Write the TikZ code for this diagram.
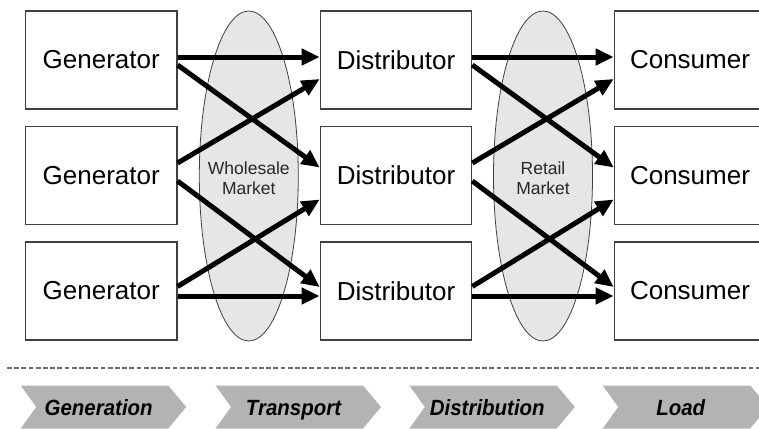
\documentclass[tikz,border=0pt]{standalone}
\usepackage{fontspec}
\setmainfont{Liberation Sans}
\newfontfamily\phasefont[FakeStretch=0.93]{Liberation Sans}
\usetikzlibrary{arrows.meta,calc,shapes.geometric}
\definecolor{boxline}{HTML}{404040}
\definecolor{marketfill}{HTML}{E6E6E6}
\definecolor{phasefill}{HTML}{B3B3B3}
\definecolor{rulegray}{HTML}{6A6A6A}

\begin{document}
\begin{tikzpicture}[x=1pt,y=-1pt,
  unit/.style={draw=boxline, line width=1.1pt, fill=white, minimum width=151.5pt,
    minimum height=98pt, inner sep=0pt, font=\fontsize{26}{31}\selectfont},
  market/.style={ellipse, draw=boxline, line width=0.8pt, fill=marketfill,
    minimum width=99pt, minimum height=330pt, inner sep=0pt},
  marketlabel/.style={align=center, inner sep=0pt, text=black!85,
    font=\fontsize{17.5}{19.5}\selectfont},
  flow/.style={line width=5pt, -{Triangle[length=18pt,width=16pt]}},
  phase/.style={fill=phasefill},
  phaselabel/.style={anchor=base, inner sep=0pt,
    font=\phasefont\fontsize{22}{26}\selectfont\bfseries\itshape}
]
\useasboundingbox (0,0) rectangle (759,428);

% market ellipses behind everything
\node[market] (wm) at (248.8,176) {};
\node[marketlabel] (wmlabel) at ($(wm.center)+(0,2)$) {Wholesale\\Market};
\node[market] (rm) at (543,176) {};
\node[marketlabel] (rmlabel) at ($(rm.center)+(0,2)$) {Retail\\Market};

% the three columns of participants
\node[unit] (g1) at (101.25,60) {Generator};
\node[unit] (g2) at (101.25,175.5) {Generator};
\node[unit] (g3) at (101.25,291) {Generator};
\node[unit] (d1) at (396,60) {Distributor};
\node[unit] (d2) at (396,175.5) {Distributor};
\node[unit] (d3) at (396,291) {Distributor};
\node[unit] (c1) at (690,60) {Consumer};
\node[unit] (c2) at (690,175.5) {Consumer};
\node[unit] (c3) at (690,291) {Consumer};

% trading flows: generators to distributors
\draw[flow] ($(g1.east)+(0,-3)$)   -- ($(d1.west)+(0,-3)$);
\draw[flow] ($(g1.east)+(0,5)$)    -- ($(d2.west)+(0,-8)$);
\draw[flow] ($(g2.east)+(0,-12.5)$) -- ($(d1.west)+(0,19)$);
\draw[flow] ($(g2.east)+(0,5.5)$)  -- ($(d3.west)+(0,-4)$);
\draw[flow] ($(g3.east)+(0,-4.5)$) -- ($(d2.west)+(0,24)$);
\draw[flow] ($(g3.east)+(0,5)$)    -- ($(d3.west)+(0,5)$);

% trading flows: distributors to consumers
\draw[flow] ($(d1.east)+(0,-3)$)   -- ($(c1.west)+(0,-3)$);
\draw[flow] ($(d1.east)+(0,5)$)    -- ($(c2.west)+(0,-8)$);
\draw[flow] ($(d2.east)+(0,-12.5)$) -- ($(c1.west)+(0,19)$);
\draw[flow] ($(d2.east)+(0,5.5)$)  -- ($(c3.west)+(0,-4)$);
\draw[flow] ($(d3.east)+(0,-4.5)$) -- ($(c2.west)+(0,24)$);
\draw[flow] ($(d3.east)+(0,5)$)    -- ($(c3.west)+(0,5)$);

% separator
\coordinate (ruleL) at (7,368);
\coordinate (ruleR) at (759,368);
\draw[rulegray, line width=1.3pt, dash pattern=on 4.8pt off 2.4pt] (ruleL) -- (ruleR);

% value chain chevrons
\foreach \L/\name/\txt in {20.7/gen/Generation, 215.5/tra/Transport,
                           409.3/dis/Distribution, 602.7/loa/Load}{
  \fill[phase] (\L,385.5) -- ++(147.5,0) -- ++(18,21.5) -- ++(-18,21.5)
    -- ++(-147.5,0) -- ++(15.5,-21.5) -- cycle;
  \node[phaselabel] (ph-\name) at (\L+78,415.5) {\txt};
}
\end{tikzpicture}
\end{document}
